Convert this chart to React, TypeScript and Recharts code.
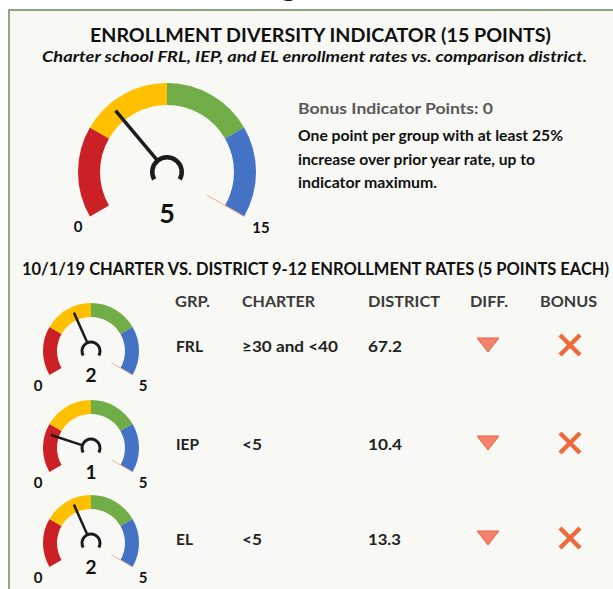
import React from 'react';
import { PieChart, Pie, Cell } from 'recharts';

// ---------- data ----------
const bandColors = ['#cb2026', '#ffc000', '#70ad47', '#4472c4'];
const bandShares = [1, 1, 1, 1];
const totalScore = 5;
const totalMax = 15;
const bonusPoints = 0;
const groups = ['FRL', 'IEP', 'EL'];
const charterRates = ['≥30 and <40', '<5', '<5'];
const districtRates = ['67.2', '10.4', '13.3'];
const groupScores = [2, 1, 2];
const groupMax = 5;
const columnHeaders = ['GRP.', 'CHARTER', 'DISTRICT', 'DIFF.', 'BONUS'];

// ---------- layout ----------
const FONT = "Lato, 'Open Sans', sans-serif";
const RAD = Math.PI / 180;
const polar = (cx: number, cy: number, r: number, a: number) => [
  cx + r * Math.cos(-a * RAD),
  cy + r * Math.sin(-a * RAD),
];

type GaugeProps = {
  value: number;
  max: number;
  left: number;
  top: number;
  width: number;
  height: number;
  cx: number;
  cy: number;
  inner: number;
  outer: number;
  hubR: number;
  hubW: number;
  needleLen: number;
  needleW: number;
  pointerIn: number;
};

function Gauge(p: GaugeProps) {
  const bands = bandShares.map((v, i) => ({ name: 'band' + i, value: v }));
  const needleData = [
    { name: 'value', value: p.value },
    { name: 'rest', value: p.max - p.value },
  ];
  const renderNeedle = (lp: any) => {
    if (lp.index === 0) {
      const [x1, y1] = polar(lp.cx, lp.cy, p.hubR - 1, lp.endAngle);
      const [x2, y2] = polar(lp.cx, lp.cy, p.needleLen, lp.endAngle);
      return (
        <line key="needle" x1={x1} y1={y1} x2={x2} y2={y2} stroke="#1c1c1c" strokeWidth={p.needleW} />
      );
    }
    const [x1, y1] = polar(lp.cx, lp.cy, p.pointerIn, lp.endAngle);
    const [x2, y2] = polar(lp.cx, lp.cy, p.outer, lp.endAngle);
    return <line key="ptr" x1={x1} y1={y1} x2={x2} y2={y2} stroke="#f4b183" strokeWidth={1} />;
  };
  return (
    <div style={{ position: 'absolute', left: p.left, top: p.top }}>
      <PieChart width={p.width} height={p.height} margin={{ top: 0, right: 0, bottom: 0, left: 0 }}>
        <Pie
          data={bands}
          dataKey="value"
          cx={p.cx}
          cy={p.cy}
          innerRadius={p.inner}
          outerRadius={p.outer}
          startAngle={210}
          endAngle={-30}
          stroke="none"
          isAnimationActive={false}
        >
          {bands.map((b, i) => (
            <Cell key={b.name} fill={bandColors[i]} />
          ))}
        </Pie>
        <Pie
          data={[{ name: 'hub', value: 1 }]}
          dataKey="value"
          cx={p.cx}
          cy={p.cy}
          innerRadius={p.hubR - p.hubW}
          outerRadius={p.hubR}
          startAngle={210}
          endAngle={-30}
          fill="#1c1c1c"
          stroke="none"
          isAnimationActive={false}
        />
        <Pie
          data={needleData}
          dataKey="value"
          cx={p.cx}
          cy={p.cy}
          innerRadius={0}
          outerRadius={p.outer}
          startAngle={210}
          endAngle={-30}
          fill="transparent"
          stroke="none"
          label={renderNeedle}
          labelLine={false}
          isAnimationActive={false}
        />
      </PieChart>
    </div>
  );
}

const rowY = [352, 450, 545];
const gaugeCy = [351, 448, 543];
const colX = [175, 242, 368, 470, 540];
const colW = [35, 73, 72, 38, 57];
const groupW = [27, 23, 17];
const charterW = [96, 20, 20];
const districtW = [34, 34, 33];

export default function App() {
  return (
    <div
      style={{
        position: 'absolute',
        left: 0,
        top: 0,
        width: 613,
        height: 589,
        overflow: 'hidden',
        background: '#ffffff',
      }}
    >
      <svg width={613} height={589} style={{ position: 'absolute', left: 0, top: 0 }}>
        <rect x={9} y={10} width={640} height={620} fill="#f8f8f5" stroke="#6b8b5c" strokeWidth={1.5} />
        <text x={279} y={-5} fontFamily={FONT} fontWeight={700} fontSize={36} fill="#111">g</text>
      </svg>

      <Gauge
        value={totalScore}
        max={totalMax}
        left={60}
        top={70}
        width={220}
        height={170}
        cx={107}
        cy={102}
        inner={67}
        outer={89}
        hubR={17}
        hubW={4.5}
        needleLen={80}
        needleW={3.5}
        pointerIn={46}
      />
      {groupScores.map((s, i) => (
        <Gauge
          key={groups[i]}
          value={s}
          max={groupMax}
          left={20}
          top={gaugeCy[i] - 60}
          width={140}
          height={100}
          cx={71}
          cy={60}
          inner={34}
          outer={48}
          hubR={10.5}
          hubW={3}
          needleLen={42}
          needleW={2.5}
          pointerIn={24}
        />
      ))}

      <svg
        width={613}
        height={589}
        style={{ position: 'absolute', left: 0, top: 0, pointerEvents: 'none' }}
        fontFamily={FONT}
        fontWeight={700}
      >
        <text x={90} y={42} fontSize={19} fill="#111" textLength={461} lengthAdjust="spacingAndGlyphs">
          ENROLLMENT DIVERSITY INDICATOR ({totalMax} POINTS)
        </text>
        <text x={42} y={62} fontSize={15} fontStyle="italic" fill="#111" textLength={545} lengthAdjust="spacingAndGlyphs">
          Charter school FRL, IEP, and EL enrollment rates vs. comparison district.
        </text>

        <text x={298} y={114} fontSize={14.5} fill="#595959" textLength={195} lengthAdjust="spacingAndGlyphs">
          Bonus Indicator Points: {bonusPoints}
        </text>
        <text x={298} y={141} fontSize={14.5} fill="#111" textLength={265} lengthAdjust="spacingAndGlyphs">
          One point per group with at least 25%
        </text>
        <text x={298} y={165} fontSize={14.5} fill="#111" textLength={237} lengthAdjust="spacingAndGlyphs">
          increase over prior year rate, up to
        </text>
        <text x={298} y={188} fontSize={14.5} fill="#111" textLength={139} lengthAdjust="spacingAndGlyphs">
          indicator maximum.
        </text>

        {/* main gauge labels */}
        <text x={167} y={223} fontSize={27} textAnchor="middle" fill="#111">{totalScore}</text>
        <text x={78} y={232} fontSize={15} textAnchor="middle" fill="#111">0</text>
        <text x={261} y={233} fontSize={15} textAnchor="middle" fill="#111">{totalMax}</text>

        <text x={22} y={275} fontSize={16.5} fill="#111" textLength={587} lengthAdjust="spacingAndGlyphs">
          10/1/19 CHARTER VS. DISTRICT 9-12 ENROLLMENT RATES (5 POINTS EACH)
        </text>

        {columnHeaders.map((h, i) => (
          <text key={h} x={colX[i]} y={307} fontSize={15.5} fill="#3a3a3a" textLength={colW[i]} lengthAdjust="spacingAndGlyphs">
            {h}
          </text>
        ))}

        {groups.map((g, i) => {
          const y = rowY[i];
          const cy = gaugeCy[i];
          const ty = y - 7;
          const xc = 570;
          return (
            <g key={g}>
              <text x={176} y={y} fontSize={15.5} fill="#222" textLength={groupW[i]} lengthAdjust="spacingAndGlyphs">{g}</text>
              <text x={242} y={y} fontSize={15.5} fill="#222" textLength={charterW[i]} lengthAdjust="spacingAndGlyphs">{charterRates[i]}</text>
              <text x={368} y={y} fontSize={15.5} fill="#222" textLength={districtW[i]} lengthAdjust="spacingAndGlyphs">{districtRates[i]}</text>
              <polygon
                points={`${477},${ty - 7} ${499},${ty - 7} ${488},${ty + 7}`}
                fill="#f4826e"
                stroke="#e8643c"
                strokeWidth={1}
              />
              <line x1={xc - 10} y1={ty - 10} x2={xc + 10} y2={ty + 10} stroke="#ee6a3c" strokeWidth={4.5} />
              <line x1={xc + 10} y1={ty - 10} x2={xc - 10} y2={ty + 10} stroke="#ee6a3c" strokeWidth={4.5} />
              <text x={91} y={cy + 31} fontSize={19} textAnchor="middle" fill="#111">{groupScores[i]}</text>
              <text x={38} y={cy + 40} fontSize={15} textAnchor="middle" fill="#111">0</text>
              <text x={143} y={cy + 40} fontSize={15} textAnchor="middle" fill="#111">{groupMax}</text>
            </g>
          );
        })}
      </svg>
    </div>
  );
}
